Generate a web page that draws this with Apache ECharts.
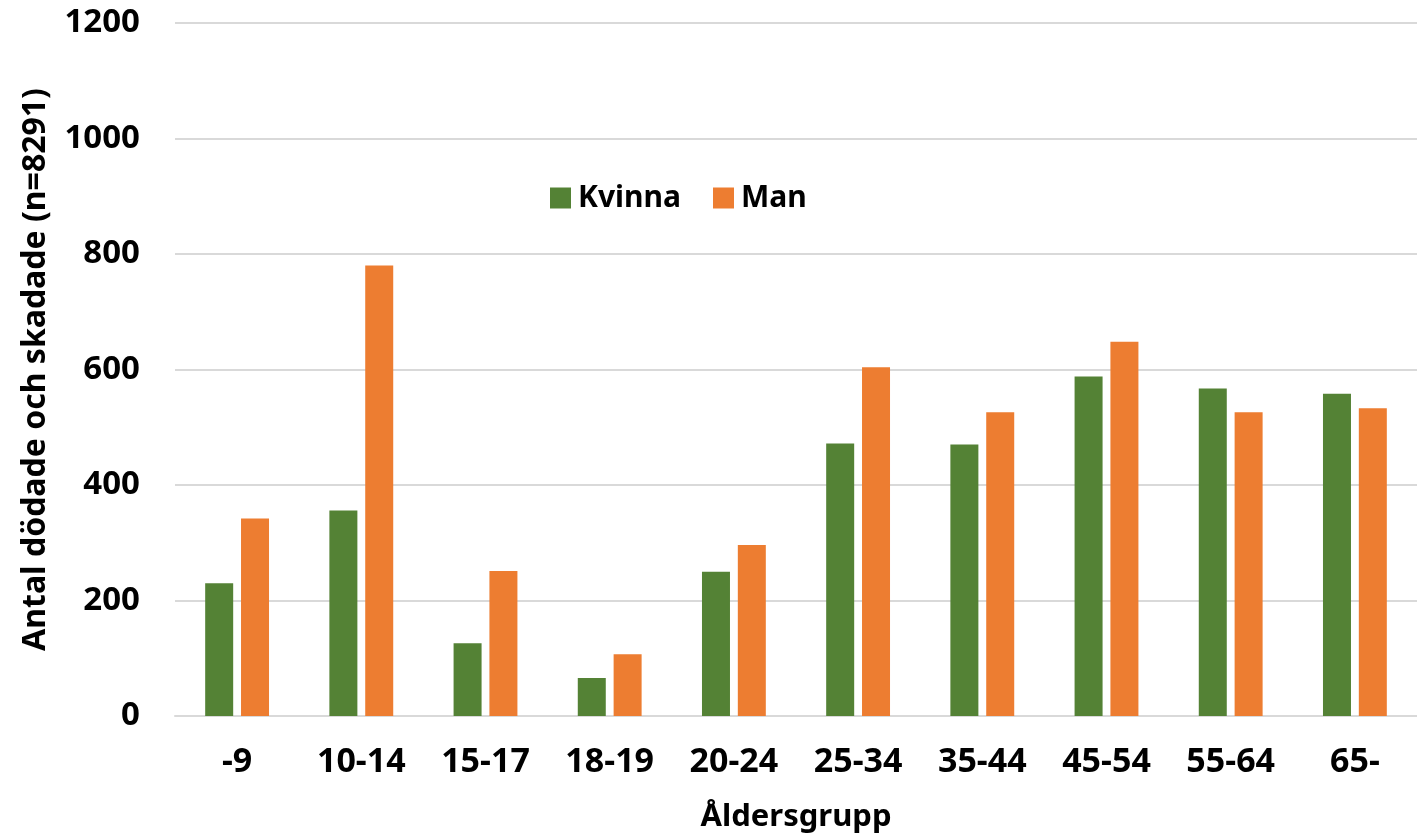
<!DOCTYPE html>
<html>
<head>
<meta charset="utf-8">
<script src="https://cdn.jsdelivr.net/npm/echarts@6/dist/echarts.min.js"></script>
<style>
  html, body { margin: 0; padding: 0; background: #fff; }
  #chart { width: 1417px; height: 839px; }
</style>
</head>
<body>
<div id="chart"></div>
<script>
var categories = ['-9', '10-14', '15-17', '18-19', '20-24', '25-34', '35-44', '45-54', '55-64', '65-']
var kvinna = [230, 356, 126, 66, 250, 472, 470, 588, 567, 558]
var man = [342, 780, 251, 107, 296, 604, 526, 648, 526, 533]

var font = 'Noto Sans'
var chart = echarts.init(document.getElementById('chart'))
chart.setOption({
  animation: false,
  textStyle: { fontFamily: font },
  legend: {
    data: ['Kvinna', 'Man'],
    icon: 'rect',
    top: 178,
    left: 545,
    itemWidth: 21,
    itemHeight: 21,
    itemGap: 32,
    textStyle: { fontFamily: font, fontWeight: 'bold', fontSize: 30, color: '#000', padding: [0, 0, 0, 2] }
  },
  grid: {
    left: 175,
    right: -10,
    top: 23,
    bottom: 123
  },
  xAxis: {
    type: 'category',
    data: categories,
    name: 'Åldersgrupp',
    nameLocation: 'middle',
    nameGap: 86,
    nameTextStyle: { fontFamily: font, fontWeight: 'bold', fontSize: 31, color: '#000' },
    axisLine: { lineStyle: { color: '#d9d9d9', width: 2 } },
    axisTick: { show: false },
    axisLabel: { fontFamily: font, fontWeight: 'bold', fontSize: 34, color: '#000', margin: 29 }
  },
  yAxis: {
    type: 'value',
    min: 0,
    max: 1200,
    interval: 200,
    name: 'Antal dödade och skadade (n=8291)',
    nameLocation: 'middle',
    nameGap: 123,
    nameTextStyle: { fontFamily: font, fontWeight: 'bold', fontSize: 32, color: '#000' },
    axisLabel: {
      fontFamily: font,
      fontWeight: 'bold',
      fontSize: 33,
      color: '#000',
      margin: 35,
      formatter: function (v) { return String(v) }
    },
    splitLine: { lineStyle: { color: '#d9d9d9', width: 2 } }
  },
  series: [
    {
      name: 'Kvinna',
      type: 'bar',
      data: kvinna,
      barWidth: 28,
      barGap: '28%',
      itemStyle: { color: '#548235' }
    },
    {
      name: 'Man',
      type: 'bar',
      data: man,
      barWidth: 28,
      itemStyle: { color: '#ED7D31' }
    }
  ]
})
</script>
</body>
</html>
